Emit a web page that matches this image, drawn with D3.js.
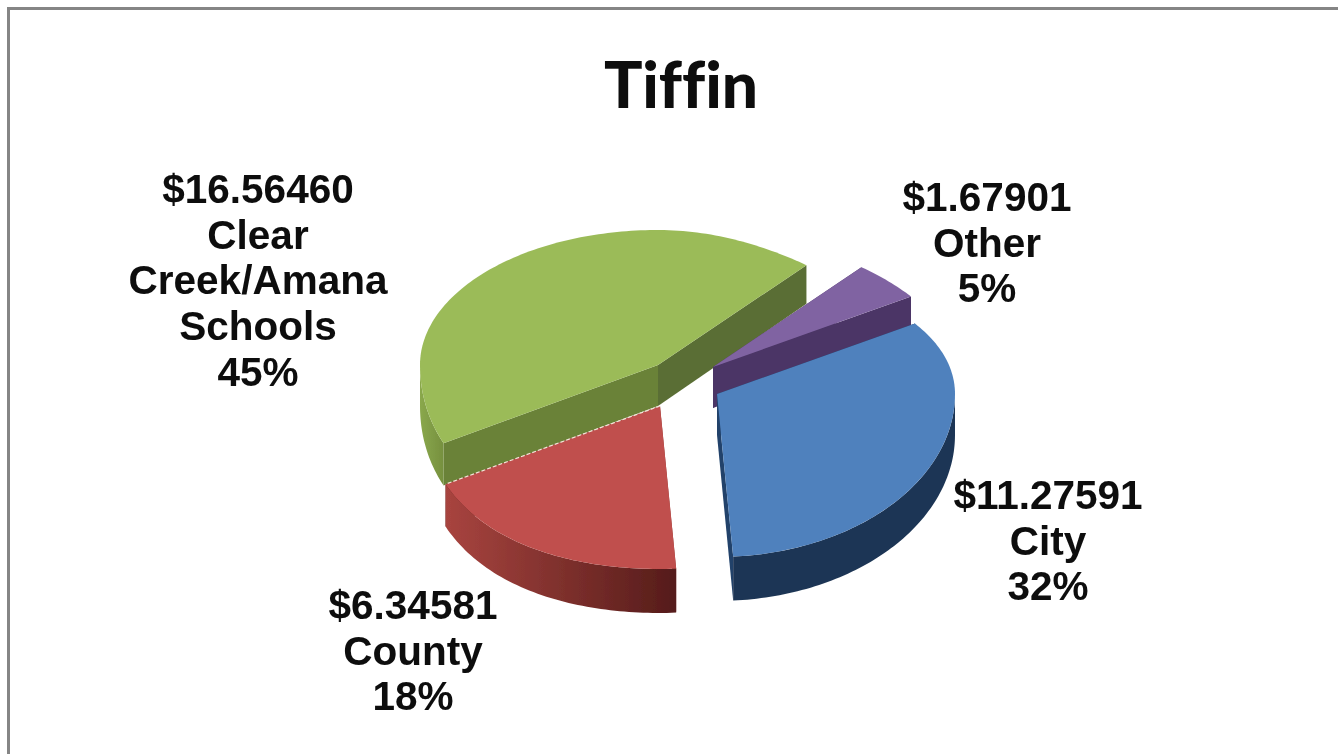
<!DOCTYPE html>
<html>
<head>
<meta charset="utf-8">
<script src="https://cdn.jsdelivr.net/npm/d3@7"></script>
<style>
  html, body { margin: 0; padding: 0; background: #fff; }
  svg { display: block; }
  text { font-family: "Liberation Sans", Arial, sans-serif; font-weight: bold; fill: #0a0a0a; }
</style>
</head>
<body>
<div id="chart"></div>
<script>
var categories = ["City", "County", "Clear Creek/Amana Schools", "Other"];
var dollars = ["$11.27591", "$6.34581", "$16.56460", "$1.67901"];
var percents = [32, 18, 45, 5];
var labelLines = [["City"], ["County"], ["Clear", "Creek/Amana", "Schools"], ["Other"]];

var w = 1338, h = 754;
var startDeg = 57;

// slice looks
var tops = ["#4f81bd", "#c0504d", "#9bbb59", "#8064a2"];
var wallFrom = ["#1f3654", "#a8443f", "#8aa84c", "#4b3566"];
var wallTo = ["#1f3654", "#551c1a", "#76903f", "#4b3566"];
var startWalls = ["#21426b", "#551c1a", "#5a6e34", "#4b3566"];
var endWalls = ["#1f3c62", "#8f3a37", "#6a8239", "#4b3566"];
// apex of each slice, the explode of the pie
var apexX = [717, 660, 658, 713];
var apexY = [394, 406, 365, 367];
// label block centre and first baseline
var labelX = [1048, 413, 258, 987];
var labelY = [509, 619, 203, 211];

var svg = d3.select("#chart").append("svg").attr("width", w).attr("height", h);

var defs = svg.append("defs");
defs.append("filter").attr("id", "soft")
    .attr("filterUnits", "userSpaceOnUse")
    .attr("x", 0).attr("y", 0)
    .attr("width", w).attr("height", h)
    .append("feGaussianBlur").attr("stdDeviation", 0.6);

var root = svg.append("g").attr("filter", "url(#soft)");

root.append("path")
    .attr("d", "M8.5," + h + "V8.5H" + w)
    .attr("fill", "none")
    .attr("stroke", "#858585")
    .attr("stroke-width", 3);

root.append("text")
    .attr("x", 681).attr("y", 108)
    .attr("text-anchor", "middle")
    .style("font-family", "Lato, sans-serif")
    .style("font-weight", 900)
    .style("font-variant-ligatures", "none")
    .style("font-size", "64px")
    .text("Tiffin");

// Excel's pie has perspective: the front half is deeper than the back half
var sx = d3.scaleLinear().domain([-1, 1]).range([-238, 238]);
var sy = d3.scaleLinear().domain([-1, 0, 1]).range([-135, 0, 163]);
var depth = d3.scaleLinear().domain([-1, 1]).range([38, 44]);

var pie = d3.pie().sort(null).value(function(d) { return d; })
    .startAngle(startDeg * Math.PI / 180)
    .endAngle((startDeg + 360) * Math.PI / 180);
var arcs = pie(percents);

var line = d3.line();

// same perspective pushes the apparent angles round at the front
function warp(a) {
    return a + (5 * Math.PI / 180) * (1 - Math.cos(a - 48 * Math.PI / 180)) / 2;
}
// rim is pinched at back right and bulges at front left
function radius(a, back) {
    var t = ((a % (2 * Math.PI)) + 2 * Math.PI) % (2 * Math.PI);
    var s = Math.sin(2 * t);
    if (t < Math.PI / 2) return 1 - back * s * s;
    if (t > Math.PI && t < Math.PI * 1.5) return 1 + 0.03 * s * s;
    return 1;
}
function rimPoints(a0, a1) {
    var n = Math.ceil(Math.abs(a1 - a0) / 0.02);
    return d3.range(n + 1).map(function(k) {
        var a = a0 + (a1 - a0) * k / n;
        return [sx(radius(a, 0.01) * Math.sin(a)), sy(-radius(a, 0.05) * Math.cos(a)), depth(-Math.cos(a))];
    });
}
function flat(p) { return [p[0], p[1]]; }
function down(p) { return [p[0], p[1] + p[2]]; }

arcs.forEach(function(d, i) {
    var g = defs.append("linearGradient").attr("id", "wall" + i);
    g.append("stop").attr("offset", "0%").attr("stop-color", wallFrom[i]);
    g.append("stop").attr("offset", "100%").attr("stop-color", wallTo[i]);
});

// back to front
[2, 3, 1, 0].forEach(function(i) {
    var d = arcs[i];
    var g = root.append("g").attr("transform", "translate(" + apexX[i] + "," + apexY[i] + ")");
    var a0 = warp(d.startAngle), a1 = warp(d.endAngle);
    var rim = rimPoints(a0, a1);
    var first = rim[0], last = rim[rim.length - 1];
    var mid = depth(0);

    // cut walls
    g.append("path")
        .attr("d", line([[0, 0], flat(first), down(first), [0, mid]]) + "Z")
        .attr("fill", endWalls[i]);
    g.append("path")
        .attr("d", line([[0, 0], flat(last), down(last), [0, mid]]) + "Z")
        .attr("fill", startWalls[i]);

    // outer wall, only the part that faces us
    var lo = Math.max(a0, Math.PI / 2), hi = Math.min(a1, Math.PI * 1.5);
    if (hi > lo) {
        var front = rimPoints(lo, hi);
        g.append("path")
            .attr("d", line(front.map(flat).concat(front.map(down).reverse())) + "Z")
            .attr("fill", "url(#wall" + i + ")");
    }
    g.append("path")
        .attr("d", line([[0, 0]].concat(rim.map(flat))) + "Z")
        .attr("fill", tops[i]);
    // pale seam along the county slice
    if (i === 1) {
        g.append("path")
            .attr("d", line([[0, 0], flat(last)]))
            .attr("stroke", "#f3e4d8")
            .attr("stroke-width", 1.2)
            .attr("stroke-dasharray", "4 2");
    }
});

// labels
categories.forEach(function(c, i) {
    var lines = [dollars[i]].concat(labelLines[i]).concat([percents[i] + "%"]);
    var t = root.append("text")
        .attr("text-anchor", "middle")
        .style("font-size", "40.5px");
    lines.forEach(function(s, k) {
        t.append("tspan")
            .attr("x", labelX[i])
            .attr("y", labelY[i] + k * 45.7)
            .text(s);
    });
});
</script>
</body>
</html>
